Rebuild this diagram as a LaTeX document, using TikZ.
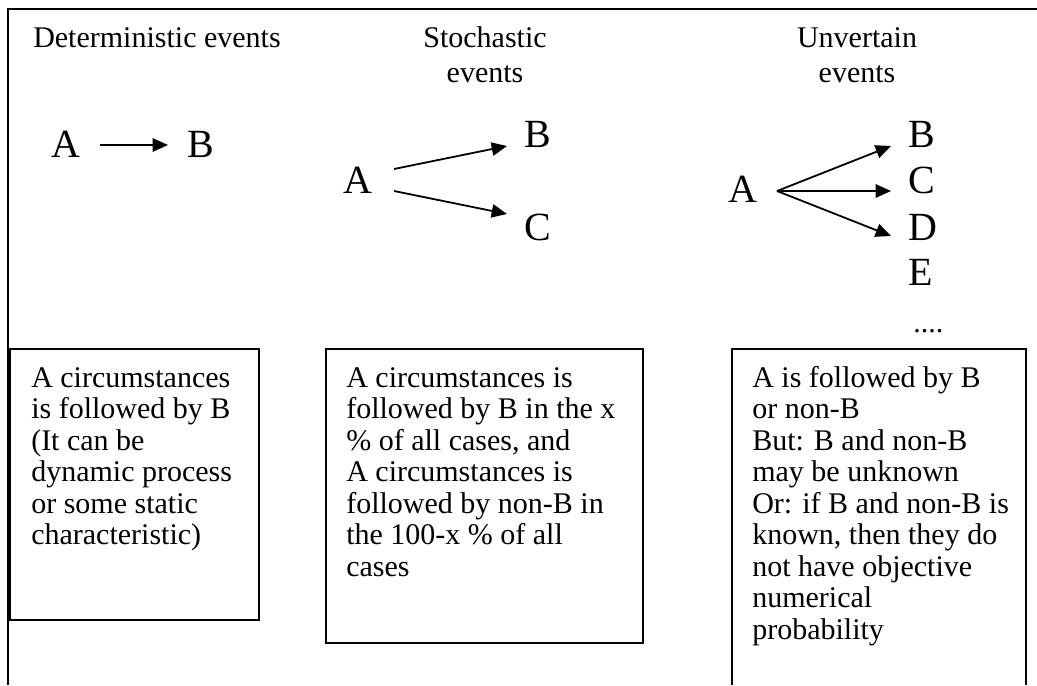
\documentclass[tikz,border=0pt]{standalone}
\usepackage{fontspec}
\setmainfont{Liberation Serif}
\usetikzlibrary{arrows.meta,calc}
\begin{document}
\begin{tikzpicture}[x=0.75pt,y=-0.75pt,
  frame/.style={line width=1.1pt},
  txt/.style={font=\fontsize{22.5}{23.6}\selectfont, inner sep=0pt, align=left, anchor=base west},
  ttl/.style={font=\fontsize{22.5}{25.5}\selectfont, inner sep=0pt, align=center, anchor=base},
  big/.style={font=\fontsize{30}{34}\selectfont, inner sep=0pt},
  arr/.style={line width=1.35pt, -{Triangle[length=11.5pt,width=10pt]}}]
\useasboundingbox (0,0) rectangle (1037,685);
% outer frame
\draw[frame] (8,685) -- (8,9) -- (1037,9);
% titles (base anchor = baseline of last line)
\node[ttl, anchor=base west] (t1) at (33,48) {Deterministic events};
\node[ttl] (t2) at (485,82) {Stochastic\\events};
\node[ttl] (t3) at (857,82) {Unvertain\\events};
% deterministic
\node[big, anchor=base east] (dA) at (81,157) {A};
\node[big, anchor=base west] (dB) at (187,157) {B};
\draw[arr] ($(dA.base east)+(19,-12)$) -- ($(dB.base west)+(-19,-12)$);
% stochastic
\node[big, anchor=base east] (sA) at (373,193) {A};
\node[big, anchor=base west] (sB) at (524,147) {B};
\node[big, anchor=base west] (sC) at (524,240) {C};
\draw[arr] ($(sA.base east)+(21,-24)$) -- ($(sB.base west)+(-17,-1)$);
\draw[arr] ($(sA.base east)+(21,-2)$) -- ($(sC.base west)+(-17,-26)$);
% uncertain
\node[big, anchor=base east] (uA) at (758,202) {A};
\node[big, anchor=base west] (uB) at (908,147) {B};
\node[big, anchor=base west] (uC) at (908,193) {C};
\node[big, anchor=base west] (uD) at (908,240) {D};
\node[big, anchor=base west] (uE) at (908,285) {E};
\node[txt] (uDots) at (913,332) {....};
\coordinate (uS) at ($(uA.base east)+(19,-11)$);
\draw[arr] (uS) -- ($(uB.base west)+(-17,-1)$);
\draw[arr] (uS) -- ($(uC.base west)+(-17,-2)$);
\draw[arr] (uS) -- ($(uD.base west)+(-17,-4)$);
% boxes
\draw[frame] (10,349) rectangle (259,620);
\draw[frame] (326,349) rectangle (643,643);
\draw[frame] (732,685) -- (732,349) -- (1026,349) -- (1026,685);
% box texts (base anchor = baseline of last line; first line at 387, step 31.5)
\node[txt] (b1) at (31,544.5) {A circumstances\\is followed by B\\(It can be\\dynamic process\\or some static\\characteristic)};
\node[txt] (b2) at (346,576) {A circumstances is\\followed by B in the x\\\% of all cases, and\\A circumstances is\\followed by non-B in\\the 100-x \% of all\\cases};
\node[txt] (b3) at (752,639) {A is followed by B\\or non-B\\But: B and non-B\\may be unknown\\Or: if B and non-B is\\known, then they do\\not have objective\\numerical\\probability};
\end{tikzpicture}
\end{document}
